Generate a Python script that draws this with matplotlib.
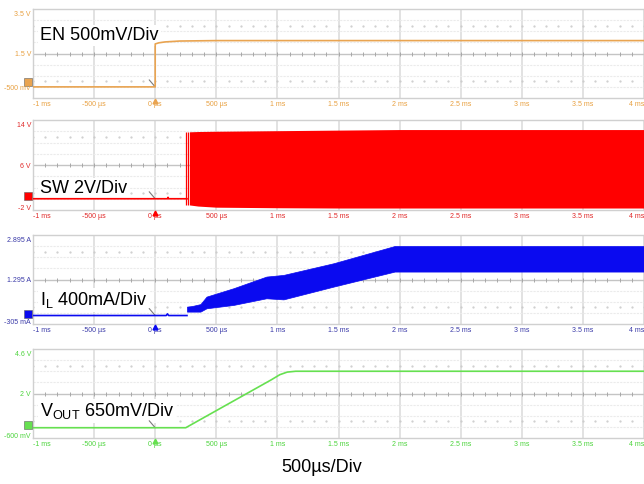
import matplotlib
matplotlib.use("Agg")
import matplotlib.pyplot as plt
from matplotlib.transforms import blended_transform_factory as blend, offset_copy

plt.rcParams['font.family'] = ['Liberation Sans', 'DejaVu Sans']
plt.rcParams['mathtext.fontset'] = 'custom'
plt.rcParams['mathtext.rm'] = 'Liberation Sans'
plt.rcParams['mathtext.it'] = 'Liberation Sans'

# time axis (ms)
time_ticks = [-1.0, -0.5, 0.0, 0.5, 1.0, 1.5, 2.0, 2.5, 3.0, 3.5, 4.0]
time_labels = ["-1 ms", "-500 µs", "0 µs", "500 µs", "1 ms", "1.5 ms", "2 ms",
               "2.5 ms", "3 ms", "3.5 ms", "4 ms"]

# EN (V)
en_t = [-1.0, 0.0, 0.0, 0.03, 0.08, 0.2, 0.5, 4.0]
en_v = [0.0, 0.0, 1.93, 1.98, 2.02, 2.06, 2.08, 2.08]

# SW (V): idle level, then switching envelope
sw_idle_t = [-1.0, 0.10, 0.105, 0.11, 0.26]
sw_idle_v = [0.0, 0.0, 0.25, 0.0, 0.0]
sw_first_pulses = [0.255, 0.268]
sw_env_t = [0.28, 0.35, 0.5, 1.0, 1.5, 2.0, 2.5, 3.0, 4.0]
sw_hi = [11.9, 11.95, 12.0, 12.1, 12.2, 12.3, 12.3, 12.3, 12.3]
sw_lo = [-1.1, -1.3, -1.5, -1.6, -1.65, -1.65, -1.65, -1.65, -1.65]

# Inductor current (A)
il_idle_t = [-1.0, 0.09, 0.10, 0.11, 0.26]
il_idle_v = [0.0, 0.0, 0.06, 0.0, 0.0]
il_env_t = [0.26, 0.30, 0.37, 0.42, 0.64, 0.91, 1.05, 1.46, 1.96, 4.0]
il_hi = [0.32, 0.34, 0.41, 0.68, 0.98, 1.40, 1.46, 1.88, 2.50, 2.50]
il_lo = [0.14, 0.14, 0.14, 0.26, 0.38, 0.62, 0.58, 1.04, 1.58, 1.58]

# VOUT (V)
vo_t = [-1.0, 0.25, 0.95, 1.02, 1.08, 1.15, 4.0]
vo_v = [0.0, 0.0, 2.8, 3.1, 3.25, 3.3, 3.3]

# channel settings: (y min, y max, scale labels, trace colour, label colour)
channels = [
    (-0.5, 3.5, ["3.5 V", "1.5 V", "-500 mV"], "#E9A451", "#E8A040"),
    (-2.0, 14.0, ["14 V", "6 V", "-2 V"], "#FF0000", "#E02828"),
    (-0.305, 2.895, ["2.895 A", "1.295 A", "-305 mA"], "#0A0AF0", "#3A3AA8"),
    (-0.6, 4.6, ["4.6 V", "2 V", "-600 mV"], "#66E050", "#4CD43C"),
]
titles = ["EN 500mV/Div", "SW 2V/Div", r"I$_{\mathrm{L}}$ 400mA/Div",
          r"V$_{\mathrm{OUT}}$ 650mV/Div"]
title_y = [0.70, 0.24, 0.27, 0.30]
bottom_label_lift = [10, 2, 1, 1]
marker_lift = [5, 2.5, 2, 2.5]

W, H = 644, 484
panels_px = [(9, 98), (120, 210), (235, 324), (349, 438)]

fig = plt.figure(figsize=(W / 100, H / 100), dpi=100)
axes = []
for (top, bot) in panels_px:
    ax = fig.add_axes([33 / W, 1 - bot / H, (W - 33) / W, (bot - top) / H])
    axes.append(ax)

minor_t = [round(-1.0 + 0.1 * k, 2) for k in range(51)]

for i, ax in enumerate(axes):
    ymin, ymax, ylabels, tc, lc = channels[i]
    ax.set_xlim(-1.0, 4.0)
    ax.set_ylim(ymin, ymax)
    ax.set_xticks([])
    ax.set_yticks([])
    for s in ax.spines.values():
        s.set_color("#D0D0D0")
        s.set_linewidth(1.0)
    div = (ymax - ymin) / 8
    # graticule
    for t in time_ticks:
        ax.axvline(t, color="#DADADA", lw=1.1, zorder=0)
    for k in range(1, 8):
        if k == 4:
            ax.axhline(ymin + k * div, color="#C4C4C4", lw=1.0, zorder=0)
        else:
            ax.axhline(ymin + k * div, color="#EBEBEB", lw=0.8, ls=(0, (2, 1)), zorder=0)
    ax.plot(minor_t, [ymin + 4 * div] * len(minor_t), ls="none", marker="|",
            ms=3.5, mew=0.7, color="#A8A8A8", zorder=0)
    for k in (1.5, 6.5):
        ax.plot(minor_t, [ymin + k * div] * len(minor_t), ls="none", marker=".",
                ms=1.2, color="#CCCCCC", zorder=0)
    tr = blend(ax.transAxes, ax.transData)
    trx = blend(ax.transData, ax.transAxes)
    # ground reference marker
    mtr = offset_copy(tr, fig=fig, x=0, y=marker_lift[i], units="dots")
    ax.plot([-0.008], [0], transform=mtr, marker="s", ms=6, mfc=tc,
            mec="#606060", mew=0.4, clip_on=False, zorder=5)
    # scale labels on the left
    offs = [-5, -1, bottom_label_lift[i]]
    for lab, yv, off in zip(ylabels, [ymax, ymin + 4 * div, ymin], offs):
        ax.annotate(lab, xy=(0, yv), xycoords=tr, xytext=(-2, off),
                    textcoords="offset pixels", ha="right", va="center",
                    fontsize=5.0, color=lc, annotation_clip=False, zorder=6)
    # time labels under the graticule
    for t, lab in zip(time_ticks, time_labels):
        dx = 9 if t == time_ticks[0] else (-7 if t == time_ticks[-1] else 0)
        ax.annotate(lab, xy=(t, 0), xycoords=trx, xytext=(dx, -3),
                    textcoords="offset pixels", ha="center", va="top",
                    fontsize=5.0, color=lc, annotation_clip=False)
    # trigger position marker
    ax.plot([0], [-0.035], transform=trx, marker="^", ms=3.5, color=tc,
            clip_on=False, zorder=5)
    # small cursor stroke near the trigger point
    ax.annotate("", xy=(0.0, 0), xycoords="data", xytext=(-6, 7),
                textcoords="offset pixels",
                arrowprops=dict(arrowstyle="-", color="#7A7A7A", lw=0.8,
                                shrinkA=0, shrinkB=0))
    # channel caption (behind the traces, above the graticule)
    ax.text(7 / (W - 33), title_y[i], titles[i], transform=ax.transAxes,
            ha="left", va="center", fontsize=13, color="black", zorder=2,
            bbox=dict(facecolor="white", edgecolor="none", pad=1.5))

# traces
axes[0].plot(en_t, en_v, color=channels[0][3], lw=1.2, zorder=3)

axes[1].plot(sw_idle_t, sw_idle_v, color=channels[1][3], lw=1.2, zorder=3)
axes[1].vlines(sw_first_pulses, sw_lo[0], sw_hi[0], color=channels[1][3], lw=0.9, zorder=3)
axes[1].fill_between(sw_env_t, sw_lo, sw_hi, color=channels[1][3], lw=0, zorder=3)

axes[2].plot(il_idle_t, il_idle_v, color=channels[2][3], lw=1.2, zorder=3)
axes[2].fill_between(il_env_t, il_lo, il_hi, color=channels[2][3], lw=0.5, zorder=3)

axes[3].plot(vo_t, vo_v, color=channels[3][3], lw=1.2, zorder=3)

fig.text(322 / W, 1 - 468 / H, "500µs/Div", ha="center", va="center",
         fontsize=13, color="black")

fig.savefig("out.png", dpi=100, facecolor="white")
